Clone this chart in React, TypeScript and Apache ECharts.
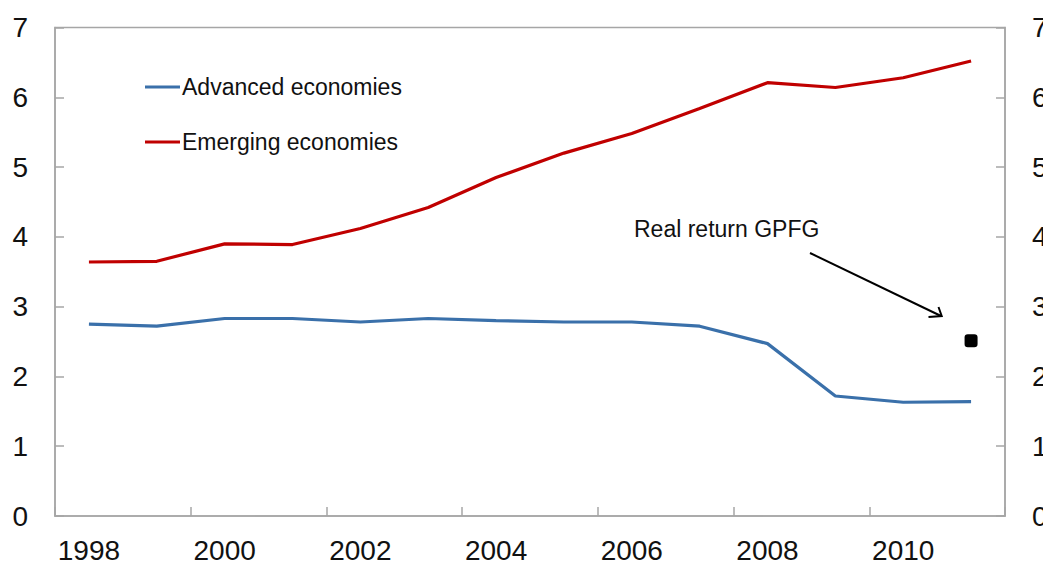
import React, { useEffect, useRef } from "react";
import * as echarts from "echarts";

const years = ["1998", "1999", "2000", "2001", "2002", "2003", "2004", "2005", "2006", "2007", "2008", "2009", "2010", "2011"];
const advanced = [2.75, 2.72, 2.83, 2.83, 2.78, 2.83, 2.8, 2.78, 2.78, 2.72, 2.47, 1.72, 1.63, 1.64];
const emerging = [3.64, 3.65, 3.9, 3.89, 4.12, 4.42, 4.85, 5.2, 5.48, 5.84, 6.21, 6.14, 6.28, 6.52];
const gpfg = [null, null, null, null, null, null, null, null, null, null, null, null, null, 2.51];
const seriesNames = ["Advanced economies", "Emerging economies"];
const annotationText = "Real return GPFG";

const FONT = "Liberation Sans, Arial, sans-serif";
const GREY = "#a6a6a6";

export default function App() {
  const ref = useRef<HTMLDivElement>(null);
  useEffect(() => {
    document.body.style.margin = "0";
    const chart = echarts.init(ref.current!, null, { renderer: "svg" });
    const yAxisBase = {
      type: "value",
      min: 0,
      max: 7,
      interval: 1,
      splitLine: { show: false },
      axisLine: { show: true, lineStyle: { color: GREY, width: 1.5 } },
      axisTick: { show: true, inside: true, length: 9, lineStyle: { color: GREY, width: 1.5 } },
      axisLabel: { fontSize: 28, color: "#111", fontFamily: FONT, margin: 27 },
    };
    chart.setOption({
      animation: false,
      backgroundColor: "#fff",
      textStyle: { fontFamily: FONT },
      grid: {
        left: 55,
        right: 38,
        top: 27.5,
        bottom: 48,
        containLabel: false,
        outerBoundsMode: "none",
        show: true,
        borderColor: GREY,
        borderWidth: 1.5,
        backgroundColor: "transparent",
      },
      legend: {
        data: seriesNames,
        orient: "vertical",
        left: 145,
        top: 75.5,
        itemGap: 32,
        itemWidth: 35,
        itemHeight: 3,
        icon: "rect",
        padding: 0,
        textStyle: { fontSize: 23, color: "#111", fontFamily: FONT, lineHeight: 23, padding: [0, 0, 0, -3] },
      },
      xAxis: {
        type: "category",
        data: years,
        boundaryGap: true,
        axisLine: { show: true, lineStyle: { color: GREY, width: 1.5 } },
        axisTick: { show: true, inside: true, length: 9, interval: 1, lineStyle: { color: GREY, width: 1.5 } },
        axisLabel: { interval: 1, fontSize: 28, color: "#111", fontFamily: FONT, margin: 20 },
      },
      yAxis: [
        { ...yAxisBase, position: "left" },
        { ...yAxisBase, position: "right" },
      ],
      series: [
        {
          name: seriesNames[0],
          type: "line",
          data: advanced,
          showSymbol: false,
          symbol: "none",
          lineStyle: { color: "#3a70aa", width: 3.2 },
          itemStyle: { color: "#3a70aa" },
        },
        {
          name: seriesNames[1],
          type: "line",
          data: emerging,
          showSymbol: false,
          symbol: "none",
          lineStyle: { color: "#c00000", width: 3.2 },
          itemStyle: { color: "#c00000" },
        },
        {
          name: "Real return GPFG",
          type: "scatter",
          data: gpfg,
          symbol: "roundRect",
          symbolSize: 13,
          itemStyle: { color: "#000", opacity: 1 },
        },
      ],
      graphic: [
        {
          type: "text",
          left: 634,
          top: 217,
          style: { text: annotationText, fontSize: 23, fill: "#111", fontFamily: FONT },
        },
        {
          type: "line",
          shape: { x1: 810, y1: 253, x2: 941, y2: 316 },
          style: { stroke: "#000", lineWidth: 2 },
        },
        {
          type: "polyline",
          shape: { points: [[928.5, 317], [941.7, 316], [938.5, 307]] },
          style: { stroke: "#000", lineWidth: 2, fill: null },
        },
      ],
    });
    return () => chart.dispose();
  }, []);
  return <div ref={ref} style={{ position: "fixed", left: 0, top: 0, width: 1043, height: 564 }} />;
}
